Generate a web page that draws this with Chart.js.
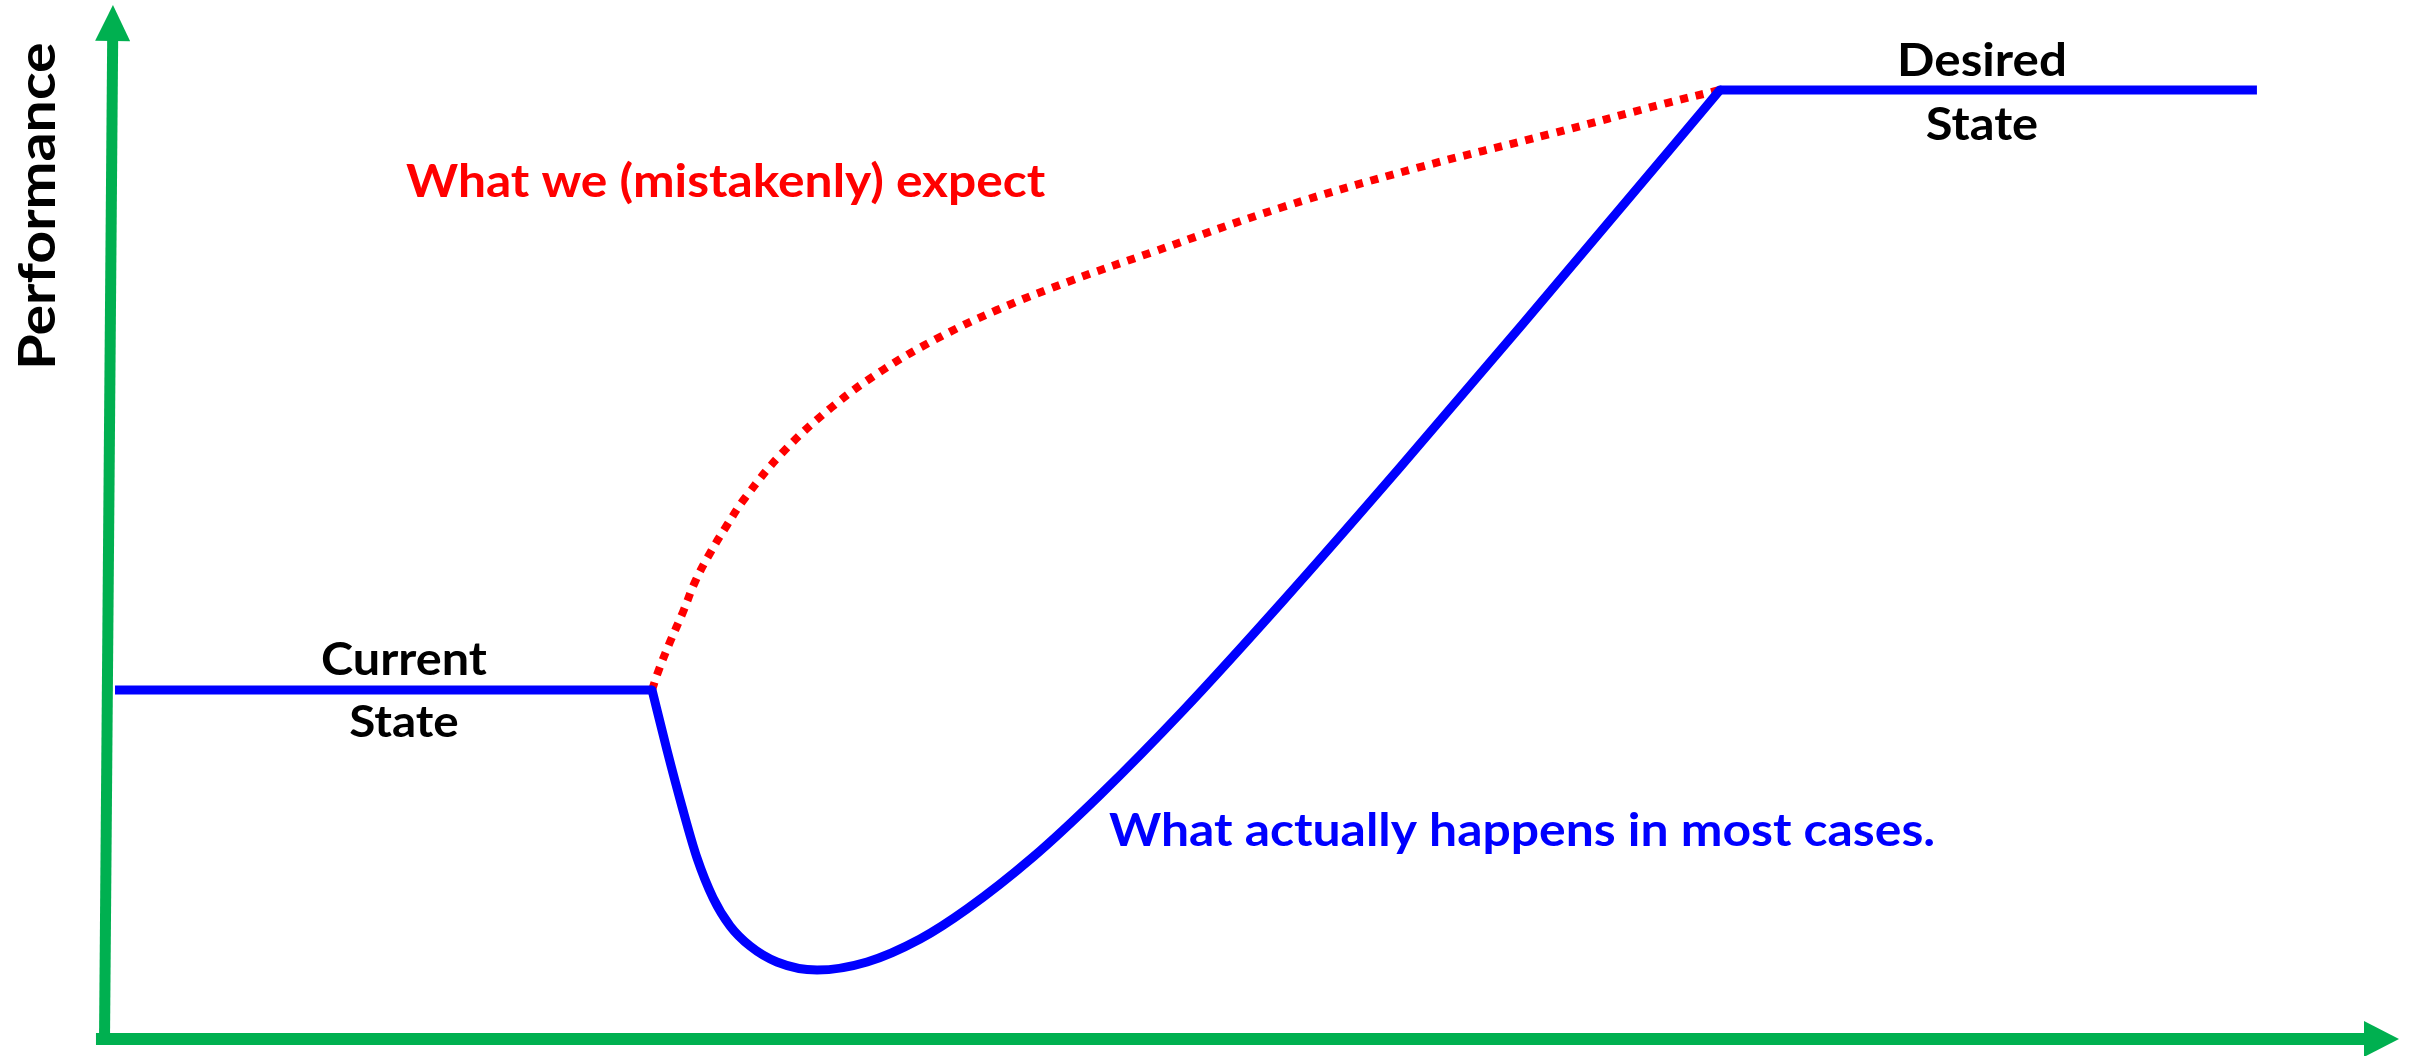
<!DOCTYPE html>
<html>
<head>
<meta charset="utf-8">
<script src="https://cdn.jsdelivr.net/npm/chart.js@4.4.1/dist/chart.umd.min.js"></script>
<style>
  html, body { margin: 0; padding: 0; background: #ffffff; }
  canvas { display: block; }
</style>
</head>
<body>
<canvas id="c" width="2410" height="1056"></canvas>
<script>
// ---------------- DATA (time vs performance, 0..100 on both axes) ----------------
const currentStateX = [0.48, 23.88];
const currentStateY = [33.75, 33.75];

const actualPathX = [23.88, 24.53, 25.19, 25.84, 26.54, 27.28, 28.15, 29.32, 31.07, 33.25, 35.56,
                     37.60, 40.48, 43.40, 47.02, 51.37, 56.47, 61.83, 68.24, 70.41];
const actualPathY = [33.75, 27.95, 22.44, 17.50, 13.64, 10.93, 8.99, 7.45, 6.67, 7.45, 9.67,
                     12.57, 17.60, 23.60, 31.77, 42.36, 55.28, 69.19, 86.03, 91.78];

const expectedPathX = [23.88, 24.14, 24.66, 25.23, 25.75, 26.41, 27.15, 27.93, 29.59, 31.72, 33.94,
                       36.34, 38.91, 42.22, 45.58, 51.37, 57.21, 63.01, 68.10, 70.41];
const expectedPathY = [33.75, 35.49, 38.39, 41.30, 44.20, 47.00, 49.71, 52.32, 56.77, 61.12, 64.70,
                       67.79, 70.50, 73.40, 76.02, 80.46, 84.24, 87.52, 90.52, 91.78];

const desiredStateX = [70.41, 93.81];
const desiredStateY = [91.78, 91.78];

// Axis arrows (start and tip, data units)
const xAxisArrowX = [-0.35, 100];
const xAxisArrowY = [0, 0];
const yAxisArrowX = [0.02, 0.39];
const yAxisArrowY = [-0.58, 100];

// Texts
const axisTitle = "Performance";
const labelTexts = ["Current", "State", "Desired", "State",
                    "What we (mistakenly) expect", "What actually happens in most cases."];

// ---------------- helpers ----------------
const zip = (xs, ys) => xs.map((x, i) => ({ x: x, y: ys[i] }));

// Placement of texts (data anchor, alignment, cap height & ink width in px)
const labelLayout = [
  { x: 13.07, y: 35.20, align: 'center', capH: 33, width: 165, color: '#000000' },
  { x: 13.07, y: 29.21, align: 'center', capH: 32, width: 108, color: '#000000' },
  { x: 81.83, y: 93.13, align: 'center', capH: 34, width: 164, color: '#000000' },
  { x: 81.83, y: 86.94, align: 'center', capH: 33, width: 110, color: '#000000' },
  { x: 13.16, y: 81.43, align: 'left',   capH: 34, width: 640, color: '#FF0000' },
  { x: 43.79, y: 18.67, align: 'left',   capH: 34, width: 825, color: '#0000FF' }
];
const titleLayout = { x: -2.14, y: 80.56, capH: 38, width: 322, color: '#000000' };

const FONT = "Lato, 'Open Sans', 'Noto Sans', sans-serif";

function drawFittedText(ctx, text, px, py, o, rotate) {
  ctx.save();
  ctx.font = "700 100px " + FONT;
  const capRatio = ctx.measureText('H').actualBoundingBoxAscent / 100;
  const size = o.capH / capRatio;
  ctx.font = "700 " + size.toFixed(2) + "px " + FONT;
  const m = ctx.measureText(text);
  const ink = m.actualBoundingBoxLeft + m.actualBoundingBoxRight;
  const sx = o.width / ink;
  ctx.translate(px, py);
  if (rotate) ctx.rotate(-Math.PI / 2);
  ctx.scale(sx, 1);
  ctx.fillStyle = o.color;
  ctx.textBaseline = 'alphabetic';
  if (o.align === 'left') {
    ctx.textAlign = 'left';
    ctx.fillText(text, m.actualBoundingBoxLeft, 0);
  } else {
    ctx.textAlign = 'center';
    ctx.fillText(text, 0, 0);
  }
  ctx.restore();
}

function drawArrow(ctx, x0, y0, x1, y1, lw, headLen, headHalf, color) {
  const dx = x1 - x0, dy = y1 - y0;
  const len = Math.hypot(dx, dy);
  const ux = dx / len, uy = dy / len;
  const bx = x1 - ux * headLen, by = y1 - uy * headLen;
  ctx.save();
  ctx.strokeStyle = color;
  ctx.fillStyle = color;
  ctx.lineWidth = lw;
  ctx.lineCap = 'butt';
  ctx.beginPath();
  ctx.moveTo(x0, y0);
  ctx.lineTo(bx + ux, by + uy);
  ctx.stroke();
  ctx.beginPath();
  ctx.moveTo(x1, y1);
  ctx.lineTo(bx - uy * headHalf, by + ux * headHalf);
  ctx.lineTo(bx + uy * headHalf, by - ux * headHalf);
  ctx.closePath();
  ctx.fill();
  ctx.restore();
}

const axesPlugin = {
  id: 'greenAxes',
  beforeDatasetsDraw(chart) {
    const ctx = chart.ctx, sx = chart.scales.x, sy = chart.scales.y;
    const green = '#00B050';
    drawArrow(ctx,
      sx.getPixelForValue(xAxisArrowX[0]), sy.getPixelForValue(xAxisArrowY[0]),
      sx.getPixelForValue(xAxisArrowX[1]), sy.getPixelForValue(xAxisArrowY[1]),
      12, 35, 18, green);
    drawArrow(ctx,
      sx.getPixelForValue(yAxisArrowX[0]), sy.getPixelForValue(yAxisArrowY[0]),
      sx.getPixelForValue(yAxisArrowX[1]), sy.getPixelForValue(yAxisArrowY[1]),
      11, 36, 17.5, green);
  }
};

const labelsPlugin = {
  id: 'textLabels',
  afterDatasetsDraw(chart) {
    const ctx = chart.ctx, sx = chart.scales.x, sy = chart.scales.y;
    labelTexts.forEach((t, i) => {
      const L = labelLayout[i];
      drawFittedText(ctx, t, sx.getPixelForValue(L.x), sy.getPixelForValue(L.y), L, false);
    });
    drawFittedText(ctx, axisTitle, sx.getPixelForValue(titleLayout.x), sy.getPixelForValue(titleLayout.y),
      Object.assign({ align: 'center' }, titleLayout), true);
  }
};

const BLUE = '#0000FF', RED = '#FF0000';

new Chart(document.getElementById('c').getContext('2d'), {
  type: 'line',
  data: {
    datasets: [
      { label: 'Current State', data: zip(currentStateX, currentStateY),
        borderColor: BLUE, borderWidth: 9, pointRadius: 0, tension: 0, clip: false,
        borderCapStyle: 'butt' },
      { label: 'Desired State', data: zip(desiredStateX, desiredStateY),
        borderColor: BLUE, borderWidth: 9, pointRadius: 0, tension: 0, clip: false,
        borderCapStyle: 'butt' },
      { label: 'What actually happens', data: zip(actualPathX, actualPathY),
        borderColor: BLUE, borderWidth: 9, pointRadius: 0, cubicInterpolationMode: 'monotone',
        clip: false, borderCapStyle: 'round', borderJoinStyle: 'round' },
      { label: 'What we expect', data: zip(expectedPathX, expectedPathY),
        borderColor: RED, borderWidth: 8, borderDash: [8, 8], pointRadius: 0,
        tension: 0.4, clip: false, borderCapStyle: 'butt' }
    ]
  },
  options: {
    responsive: false,
    animation: false,
    devicePixelRatio: 1,
    events: [],
    layout: { padding: { left: 104, right: 11, top: 5, bottom: 17 } },
    scales: {
      x: { type: 'linear', min: 0, max: 100, display: false },
      y: { type: 'linear', min: 0, max: 100, display: false }
    },
    plugins: { legend: { display: false }, tooltip: { enabled: false }, title: { display: false } }
  },
  plugins: [axesPlugin, labelsPlugin]
});
</script>
</body>
</html>
